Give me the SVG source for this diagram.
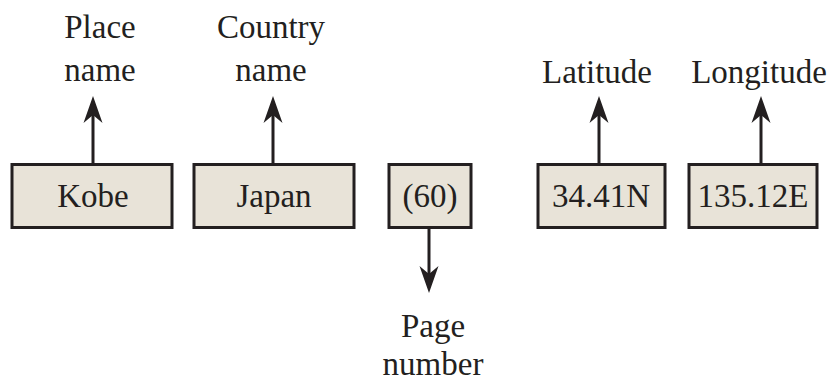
<svg xmlns="http://www.w3.org/2000/svg" width="830" height="383" viewBox="0 0 830 383">
<style>
.box{fill:#e8e3d8;stroke:#231f20;stroke-width:3}
.lbl{font-family:"Liberation Serif",serif;font-size:33px;fill:#231f20;text-anchor:middle}
.edge{stroke:#231f20;stroke-width:3;fill:none}
.head{fill:#231f20}
</style>
<rect width="830" height="383" fill="#ffffff"/>
<g id="connectors">
<path class="edge" d="M93,164 V108"/>
<path class="head" d="M93,96 L83.5,123 L93,115 L102.5,123 Z"/>
<path class="edge" d="M273,164 V108"/>
<path class="head" d="M273,96 L263.5,123 L273,115 L282.5,123 Z"/>
<path class="edge" d="M429,228 V282"/>
<path class="head" d="M429,293 L419.5,266 L429,274 L438.5,266 Z"/>
<path class="edge" d="M599,164 V108"/>
<path class="head" d="M599,96 L589.5,123 L599,115 L608.5,123 Z"/>
<path class="edge" d="M761,164 V108"/>
<path class="head" d="M761,96 L751.5,123 L761,115 L770.5,123 Z"/>
</g>
<g id="kobe"><rect class="box" x="12" y="164.5" width="160" height="63"/><text class="lbl" x="93" y="207">Kobe</text></g>
<g id="japan"><rect class="box" x="194" y="164.5" width="160" height="63"/><text class="lbl" x="274" y="207">Japan</text></g>
<g id="page"><rect class="box" x="389" y="164.5" width="82" height="63"/><text class="lbl" x="430" y="207">(60)</text></g>
<g id="lat"><rect class="box" x="538" y="164.5" width="127" height="63"/><text class="lbl" x="601" y="207">34.41N</text></g>
<g id="lon"><rect class="box" x="689" y="164.5" width="128" height="63"/><text class="lbl" x="753" y="207">135.12E</text></g>
<g id="label-place"><text class="lbl" x="100" y="38">Place</text><text class="lbl" x="100" y="81">name</text></g>
<g id="label-country"><text class="lbl" x="271" y="38">Country</text><text class="lbl" x="271" y="81">name</text></g>
<g id="label-latitude"><text class="lbl" x="597" y="83">Latitude</text></g>
<g id="label-longitude"><text class="lbl" x="759" y="83">Longitude</text></g>
<g id="label-page"><text class="lbl" x="433" y="337">Page</text><text class="lbl" x="433" y="375">number</text></g>
</svg>
